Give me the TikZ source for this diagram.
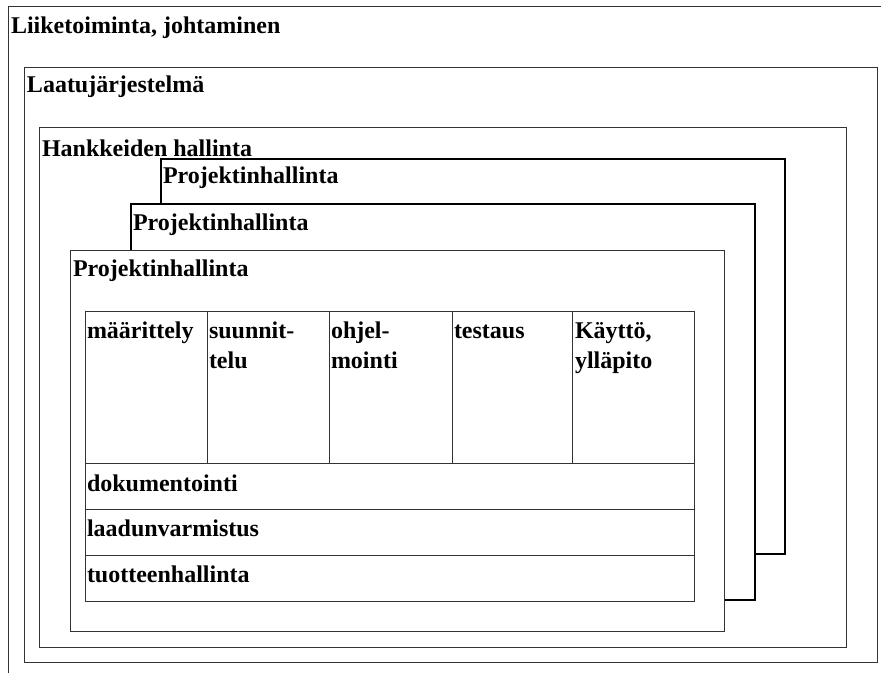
\documentclass[tikz,border=0pt]{standalone}
\usepackage{fontspec}
\setmainfont{Liberation Serif}
\usetikzlibrary{calc}
\newcommand{\twolines}[2]{\begin{tabular}[t]{@{}l@{}}#1\\#2\end{tabular}}
\begin{document}
\begin{tikzpicture}[x=1pt,y=-1pt,
  thin line/.style={draw=black!80,line width=1pt},
  box/.style={thin line,rectangle,inner sep=0pt,outer sep=0pt,anchor=north west},
  heavybox/.style={draw=black,line width=1.5pt,rectangle,inner sep=0pt,outer sep=0pt,anchor=north west,fill=white},
  heavy/.style={draw=black,line width=2.6pt,line cap=rect},
  lbl/.style={inner sep=0pt,outer sep=0pt,anchor=base west,font=\fontsize{24}{30}\selectfont\bfseries},
  cell/.style={box,minimum height=152pt},
  rowbox/.style={box,minimum width=609pt,minimum height=46pt}]
\useasboundingbox[fill=white] (0,0) rectangle (881,673);
% outermost frame (cut by the picture edge)
\coordinate (otr) at (881,6);
\coordinate (otl) at (8,6);
\coordinate (obl) at (8,673);
\draw[thin line] (otr) -- (otl) -- (obl);
\node[lbl] (tliike) at (11,33) {Liiketoiminta, johtaminen};
% quality system
\node[box,minimum width=853pt,minimum height=595pt] (laatu) at (24,67) {};
\node[lbl] (tlaatu) at (27,92) {Laatujärjestelmä};
% project portfolio
\node[box,minimum width=807pt,minimum height=520pt] (hank) at (39,127) {};
% back project
\node[heavybox,minimum width=624pt,minimum height=395pt] (pback) at (161,159) {};
\draw[heavy] (pback.north east) -- (pback.south east) -- (pback.south west);
\node[lbl] (tpback) at (163,183) {Projektinhallinta};
% middle project
\node[heavybox,minimum width=624pt,minimum height=396pt] (pmid) at (131,204) {};
\draw[heavy] (pmid.north east) -- (pmid.south east) -- (pmid.south west);
\node[lbl] (tpmid) at (133,230) {Projektinhallinta};
% front project
\node[box,fill=white,minimum width=654pt,minimum height=381pt] (pfront) at (70,250) {};
\node[lbl] (tpfront) at (73,276) {Projektinhallinta};
\node[lbl] (thank) at (42,156) {Hankkeiden hallinta};
% table: phases
\node[cell,minimum width=122pt] (c1) at (85,311) {};
\node[cell,minimum width=122pt] (c2) at (207,311) {};
\node[cell,minimum width=123pt] (c3) at (329,311) {};
\node[cell,minimum width=120pt] (c4) at (452,311) {};
\node[cell,minimum width=122pt] (c5) at (572,311) {};
\node[lbl] (t1) at ($(c1.north west)+(2,27)$) {määrittely};
\node[lbl] (t2) at ($(c2.north west)+(2,27)$) {\twolines{suunnit-}{telu}};
\node[lbl] (t3) at ($(c3.north west)+(2,27)$) {\twolines{ohjel-}{mointi}};
\node[lbl] (t4) at ($(c4.north west)+(2,27)$) {testaus};
\node[lbl] (t5) at ($(c5.north west)+(3,27)$) {\twolines{Käyttö,}{ylläpito}};
% table: support processes
\node[rowbox] (r1) at (85,463) {};
\node[rowbox] (r2) at (85,509) {};
\node[rowbox] (r3) at (85,555) {};
\node[lbl] (tr1) at ($(r1.north west)+(2,28)$) {dokumentointi};
\node[lbl] (tr2) at ($(r2.north west)+(2,27)$) {laadunvarmistus};
\node[lbl] (tr3) at ($(r3.north west)+(2,27)$) {tuotteenhallinta};
\end{tikzpicture}
\end{document}
